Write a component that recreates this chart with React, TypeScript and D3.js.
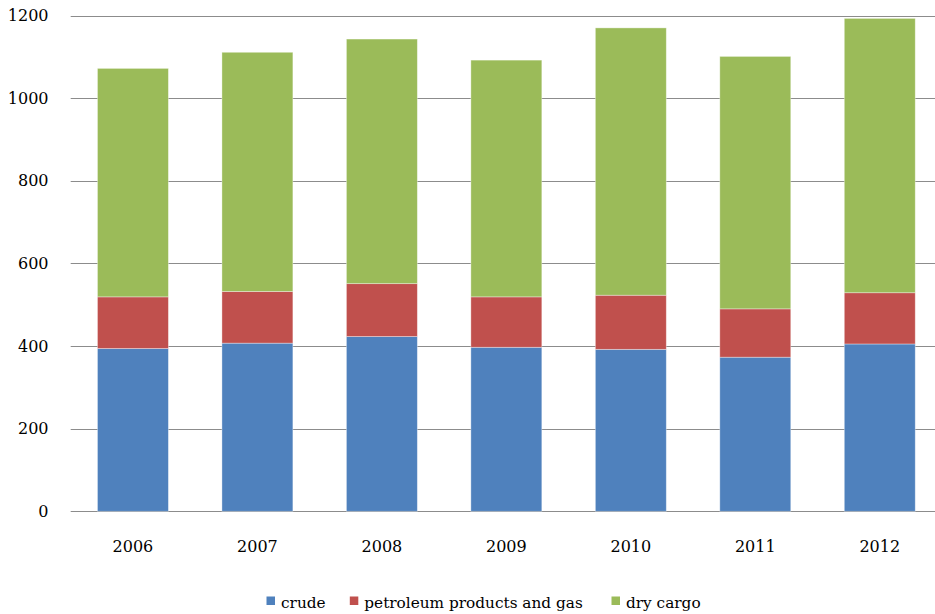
import React from "react";
import * as d3 from "d3";

const years = ["2006", "2007", "2008", "2009", "2010", "2011", "2012"];
const crude = [394, 407, 423, 397, 392, 373, 405];
const petroleum = [125, 125, 128, 122, 131, 117, 124];
const dryCargo = [553, 579, 592, 573, 647, 611, 664];
const yTicks = [0, 200, 400, 600, 800, 1000, 1200];

const seriesNames = ["crude", "petroleum products and gas", "dry cargo"];
const colors = ["#4F81BD", "#C0504D", "#9BBB59"];

const W = 935;
const H = 614;
const margin = { top: 15.5, left: 70.7, bottom: 102.7 };
const plotRight = 942;
const textStyle = { fontFamily: "'DejaVu Serif', serif", fontSize: "16px" };
const legendStyle = { fontFamily: "'DejaVu Serif', serif", fontSize: "15.3px" };

const App = () => {
  const rows = years.map((y, i) => ({
    year: y,
    crude: crude[i],
    petroleum: petroleum[i],
    dry: dryCargo[i],
  }));
  const stack = d3.stack<any>().keys(["crude", "petroleum", "dry"]);
  const layers = stack(rows);

  const x = d3
    .scaleBand()
    .domain(years)
    .range([margin.left, plotRight])
    .paddingInner(0.43)
    .paddingOuter(0.215);
  const y = d3
    .scaleLinear()
    .domain([0, 1200])
    .range([H - margin.bottom, margin.top]);

  const legendX = [266.5, 349.8, 611.5];

  return (
    <div style={{ position: "absolute", left: 0, top: 0 }}>
      <svg width={W} height={H} style={{ display: "block", background: "#fff" }}>
        {yTicks.map((t) => (
          <g key={t}>
            <line
              x1={margin.left}
              x2={plotRight}
              y1={Math.round(y(t)) + 0.5}
              y2={Math.round(y(t)) + 0.5}
              stroke="#8c8c8c"
              strokeWidth={1}
            />
            <text x={48.5} y={y(t)} dy="0.35em" textAnchor="end" style={textStyle} fill="#000">
              {t}
            </text>
          </g>
        ))}
        {layers.map((layer, si) => (
          <g key={si} fill={colors[si]}>
            {layer.map((d, i) => (
              <rect
                key={i}
                x={x(years[i])}
                width={x.bandwidth()}
                y={y(d[1])}
                height={y(d[0]) - y(d[1])}
                stroke="#ffffff"
                strokeOpacity={0.45}
                strokeWidth={0.8}
              />
            ))}
          </g>
        ))}
        {years.map((yr) => (
          <text
            key={yr}
            x={(x(yr) as number) + x.bandwidth() / 2}
            y={552}
            textAnchor="middle"
            style={textStyle}
            fill="#000"
          >
            {yr}
          </text>
        ))}
        {seriesNames.map((name, i) => (
          <g key={name} transform={`translate(${legendX[i]},0)`}>
            <rect x={0} y={596.5} width={8.5} height={8.5} fill={colors[i]} />
            <text x={14.5} y={607.5} style={legendStyle} fill="#000">
              {name}
            </text>
          </g>
        ))}
      </svg>
    </div>
  );
};

export default App;
